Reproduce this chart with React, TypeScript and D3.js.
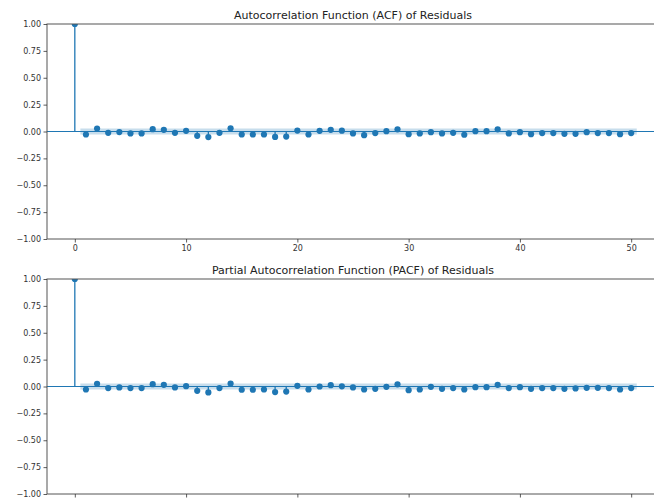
import * as d3 from "d3"
import { useEffect, useRef } from "react"

// lag 0..50
const lags = d3.range(0, 51)

const acfValues = [
  1.0, -0.028, 0.028, -0.012, -0.005, -0.018, -0.018, 0.022, 0.016, -0.012,
  0.006, -0.04, -0.052, -0.012, 0.03, -0.028, -0.028, -0.028, -0.05, -0.047,
  0.009, -0.028, 0.006, 0.016, 0.008, -0.018, -0.034, -0.015, 0.003, 0.02,
  -0.025, -0.018, -0.006, -0.018, -0.012, -0.03, 0.003, 0.003, 0.02, -0.018,
  -0.006, -0.025, -0.015, -0.015, -0.022, -0.022, -0.006, -0.015, -0.015, -0.025,
  -0.015,
]

const pacfValues = [
  1.0, -0.028, 0.025, -0.015, -0.009, -0.015, -0.015, 0.022, 0.016, -0.009,
  0.003, -0.04, -0.055, -0.015, 0.028, -0.03, -0.03, -0.028, -0.052, -0.047,
  0.006, -0.028, 0.0, 0.012, 0.002, -0.009, -0.028, -0.022, -0.003, 0.02,
  -0.034, -0.028, -0.003, -0.022, -0.015, -0.028, -0.006, -0.006, 0.016, -0.015,
  -0.006, -0.022, -0.015, -0.015, -0.022, -0.018, -0.012, -0.012, -0.015, -0.028,
  -0.015,
]

const confBand = 0.028
const xTicks = [0, 10, 20, 30, 40, 50]
const yTicks = [-1, -0.75, -0.5, -0.25, 0, 0.25, 0.5, 0.75, 1]

const blue = "#1f77b4"
const font = "DejaVu Sans, sans-serif"

function CorrPanel({ values, title, top, id, showXLabels }) {
  const left = 47
  const right = 659
  const height = 215

  const xScale = d3.scaleLinear().domain([-2.5, 52.5]).range([left, right])
  const yScale = d3.scaleLinear().domain([-1, 1]).range([top + height, top])

  const xAxisRef = useRef(null)
  const yAxisRef = useRef(null)

  useEffect(() => {
    const xAxis = d3.axisBottom(xScale).tickValues(xTicks).tickSize(3.5).tickPadding(2.5)
      .tickFormat(showXLabels ? d3.format("d") : () => "")
    const yAxis = d3.axisLeft(yScale).tickValues(yTicks).tickSize(3.5).tickPadding(2.5)
      .tickFormat(d3.format(".2f"))
    const styleAxis = (g) => {
      g.select(".domain").remove()
      g.selectAll(".tick line").attr("stroke", "#333").attr("stroke-width", 0.8)
      g.selectAll(".tick text").attr("fill", "#333").style("font-family", font).style("font-size", "8px")
    }
    d3.select(xAxisRef.current).call(xAxis).call(styleAxis)
    d3.select(yAxisRef.current).call(yAxis).call(styleAxis)
  }, [])

  const band = d3.area()
    .x(d => xScale(d))
    .y0(yScale(-confBand))
    .y1(yScale(confBand))

  return (
    <g>
      <defs>
        <clipPath id={id}>
          <rect x={left} y={top} width={right - left} height={height} />
        </clipPath>
      </defs>
      <text x={(left + right) / 2} y={top - 5} textAnchor="middle"
        style={{ fontFamily: font, fontSize: "11px" }} fill="#222">{title}</text>
      <g clipPath={`url(#${id})`}>
        <path d={band([0.5, 50.5])} fill={blue} fillOpacity={0.25} />
        <line x1={left} x2={right} y1={yScale(0)} y2={yScale(0)} stroke={blue} strokeWidth={1.2} />
        {lags.map(l => (
          <line key={"s" + l} x1={xScale(l)} x2={xScale(l)} y1={yScale(0)} y2={yScale(values[l])}
            stroke={blue} strokeWidth={1.3} />
        ))}
        {lags.map(l => (
          <circle key={"c" + l} cx={xScale(l)} cy={yScale(values[l])} r={3.1} fill={blue} />
        ))}
      </g>
      <rect x={left} y={top} width={right - left} height={height} fill="none" stroke="#555" strokeWidth={1} />
      <g ref={xAxisRef} transform={`translate(0, ${top + height})`} />
      <g ref={yAxisRef} transform={`translate(${left}, 0)`} />
    </g>
  )
}

export default function App() {
  return (
    <svg width={654} height={501} style={{ position: "absolute", left: 0, top: 0, background: "#fff" }}>
      <CorrPanel values={acfValues} title="Autocorrelation Function (ACF) of Residuals" top={24} id="clipAcf" showXLabels={true} />
      <CorrPanel values={pacfValues} title="Partial Autocorrelation Function (PACF) of Residuals" top={279} id="clipPacf" showXLabels={false} />
    </svg>
  )
}
